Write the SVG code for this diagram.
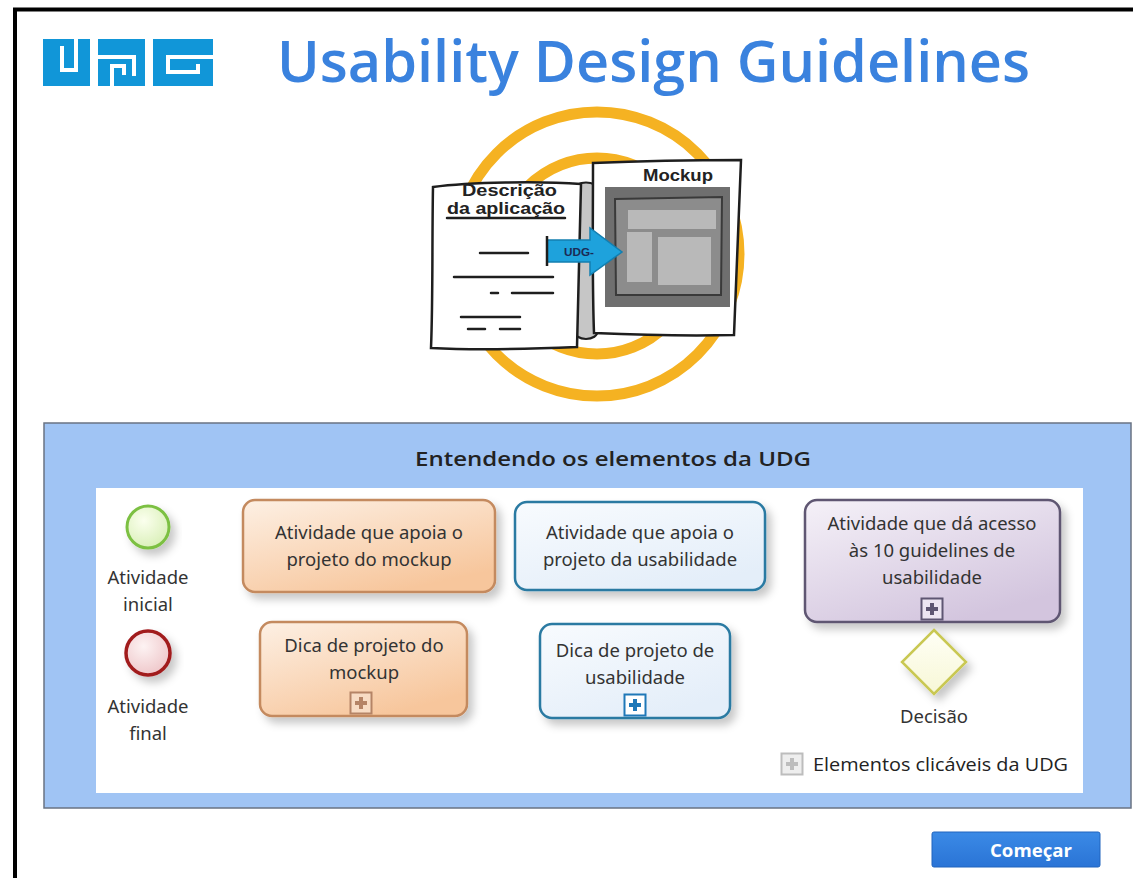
<svg xmlns="http://www.w3.org/2000/svg" width="1133" height="878" viewBox="0 0 1133 878">
  <defs>
    <style>
      .lbl { font-family: "Noto Sans", "Open Sans", sans-serif; font-size: 18.5px; fill: #333; text-anchor: middle; }
      .round { font-family: "Open Sans", "Noto Sans", sans-serif; }
      .hand { font-family: "Liberation Sans", "DejaVu Sans", sans-serif; font-weight: bold; fill: #222; }
      .ink { fill: none; stroke: #1e1e1e; stroke-width: 2.5; stroke-linecap: round; stroke-linejoin: round; }
      .logo-cut { fill: none; stroke: #fff; stroke-width: 4; stroke-linecap: square; }
      .ring { fill: none; stroke: #f5b222; stroke-width: 11; }
    </style>
    <linearGradient id="gOrange" x1="0" y1="0" x2="0.6" y2="1">
      <stop offset="0" stop-color="#fdf0e4"/>
      <stop offset="1" stop-color="#f7c69c"/>
    </linearGradient>
    <linearGradient id="gBlue" x1="0" y1="0" x2="0.6" y2="1">
      <stop offset="0" stop-color="#f8fbfe"/>
      <stop offset="1" stop-color="#e4eef9"/>
    </linearGradient>
    <linearGradient id="gPurple" x1="0" y1="0" x2="0.6" y2="1">
      <stop offset="0" stop-color="#f5f1f8"/>
      <stop offset="1" stop-color="#d3c5de"/>
    </linearGradient>
    <radialGradient id="gStart" cx="0.4" cy="0.35" r="0.7">
      <stop offset="0" stop-color="#fbffee"/>
      <stop offset="1" stop-color="#d8efb6"/>
    </radialGradient>
    <radialGradient id="gEnd" cx="0.4" cy="0.35" r="0.7">
      <stop offset="0" stop-color="#fdf3f3"/>
      <stop offset="1" stop-color="#eec5c8"/>
    </radialGradient>
    <linearGradient id="gDiamond" x1="0" y1="0" x2="0" y2="1">
      <stop offset="0" stop-color="#fffff6"/>
      <stop offset="1" stop-color="#f7f7d6"/>
    </linearGradient>
    <linearGradient id="gBtn" x1="0" y1="0" x2="0" y2="1">
      <stop offset="0" stop-color="#3b8ae6"/>
      <stop offset="1" stop-color="#2a74d6"/>
    </linearGradient>
    <filter id="shadow" x="-20%" y="-20%" width="150%" height="160%">
      <feDropShadow dx="5" dy="6" stdDeviation="4" flood-color="#000" flood-opacity="0.22"/>
    </filter>
    <g id="plus">
      <rect x="-10.5" y="-10.5" width="21" height="21" stroke-width="2"/>
      <path d="M-6,0 H6 M0,-6 V6" stroke-width="4" fill="none"/>
    </g>
  </defs>

  <!-- page background and frame -->
  <rect x="0" y="0" width="1133" height="878" fill="#ffffff"/>
  <path d="M15,878 V9.5 H1133" fill="none" stroke="#000" stroke-width="4"/>

  <!-- header: logo and title -->
  <g id="logo" fill="#1196d8">
    <rect x="43" y="39" width="47" height="47"/>
    <rect x="98" y="39" width="47" height="47"/>
    <rect x="153" y="39" width="60" height="47"/>
    <path class="logo-cut" d="M62,48 V70 H76 V39"/>
    <path class="logo-cut" d="M98,57 H134 V74 M112,86 V66 H124 V73"/>
    <path class="logo-cut" d="M213,57 H168 V72 H198 V66"/>
  </g>
  <text id="title" class="round" x="277" y="82" font-size="58" font-weight="600" fill="#3a82de" textLength="753" lengthAdjust="spacingAndGlyphs">Usability Design Guidelines</text>

  <!-- illustration: description turned into mockup -->
  <g id="illustration">
    <circle class="ring" cx="597" cy="254" r="142"/>
    <circle class="ring" cx="597" cy="256" r="98"/>

    <!-- scroll roll -->
    <path d="M574,190 C574,180 598,180 598,190 L598,330 C598,342 574,342 574,330 Z" fill="#c6c6c6" stroke="#1e1e1e" stroke-width="2.2"/>

    <!-- description sheet -->
    <path d="M433,187 C470,182 540,181 581,184 L577,347 C530,349 470,350 431,348 C433,300 432,240 433,187 Z" fill="#ffffff" stroke="#1e1e1e" stroke-width="2.5"/>
    <text class="hand" x="462" y="196" font-size="16" textLength="95" lengthAdjust="spacingAndGlyphs">Descrição</text>
    <text class="hand" x="447" y="214" font-size="16" textLength="118" lengthAdjust="spacingAndGlyphs">da aplicação</text>
    <path class="ink" d="M447,218 H565" stroke-width="2"/>
    <path class="ink" d="M480,253 H528 M454,277 H553 M491,293 H498 M512,293 H553 M461,317 H520 M468,329 H485 M500,329 H520"/>

    <!-- mockup sheet -->
    <path d="M593,163 C640,161 700,160 741,160 L734,335 C690,336 640,335 594,333 C592,280 593,220 593,163 Z" fill="#ffffff" stroke="#1e1e1e" stroke-width="2.5"/>
    <text class="hand" x="643" y="181" font-size="17" textLength="70" lengthAdjust="spacingAndGlyphs">Mockup</text>
    <rect x="605" y="187" width="125" height="120" fill="#6f6f6f"/>
    <path d="M615,199 L722,197 L721,295 L616,295 Z" fill="#8c8c8c" stroke="#3a3a3a" stroke-width="2"/>
    <rect x="628" y="210" width="88" height="19" fill="#b9b9b9"/>
    <rect x="627" y="232" width="25" height="50" fill="#b9b9b9"/>
    <rect x="658" y="237" width="53" height="48" fill="#b9b9b9"/>

    <!-- arrow -->
    <path d="M547,240 H590 V228 L622,252 L590,275 V262 H547 Z" fill="#1ea2dc" stroke="#137fb0" stroke-width="1.5"/>
    <path d="M547,236 V266" stroke="#1e1e1e" stroke-width="2.5"/>
    <text x="564" y="256" font-family="Liberation Sans, sans-serif" font-weight="bold" font-size="11" fill="#1b2a55" textLength="30" lengthAdjust="spacingAndGlyphs">UDG-</text>
  </g>

  <!-- legend panel -->
  <g id="panel">
    <rect x="44" y="423" width="1087" height="385" fill="#a0c4f4" stroke="#6a7383" stroke-width="1.5"/>
    <rect x="96" y="488" width="987" height="305" fill="#ffffff"/>
    <text class="round" x="613" y="466" font-size="20" font-weight="600" fill="#222" text-anchor="middle" textLength="396" lengthAdjust="spacingAndGlyphs">Entendendo os elementos da UDG</text>
  </g>

  <g id="start-event">
    <circle cx="148" cy="527" r="21" fill="url(#gStart)" stroke="#7cc043" stroke-width="3" filter="url(#shadow)"/>
    <text class="lbl" x="148" y="584">Atividade</text>
    <text class="lbl" x="148" y="611">inicial</text>
  </g>

  <g id="end-event">
    <circle cx="148" cy="653" r="22" fill="url(#gEnd)" stroke="#a11a1e" stroke-width="3.5" filter="url(#shadow)"/>
    <text class="lbl" x="148" y="713">Atividade</text>
    <text class="lbl" x="148" y="740">final</text>
  </g>

  <g id="mockup-activity">
    <rect x="243" y="500" width="252" height="92" rx="12" fill="url(#gOrange)" stroke="#c48a5e" stroke-width="2.5" filter="url(#shadow)"/>
    <text class="lbl" x="369" y="539">Atividade que apoia o</text>
    <text class="lbl" x="369" y="566">projeto do mockup</text>
  </g>

  <g id="usability-activity">
    <rect x="515" y="502" width="250" height="88" rx="12" fill="url(#gBlue)" stroke="#2a7aa2" stroke-width="2.5" filter="url(#shadow)"/>
    <text class="lbl" x="640" y="539">Atividade que apoia o</text>
    <text class="lbl" x="640" y="566">projeto da usabilidade</text>
  </g>

  <g id="guidelines-activity">
    <rect x="805" y="500" width="255" height="122" rx="12" fill="url(#gPurple)" stroke="#5e5672" stroke-width="2.5" filter="url(#shadow)"/>
    <text class="lbl" x="932" y="530">Atividade que dá acesso</text>
    <text class="lbl" x="932" y="557">às 10 guidelines de</text>
    <text class="lbl" x="932" y="584">usabilidade</text>
    <use href="#plus" x="932" y="609" fill="#ece5f1" stroke="#5e5672"/>
  </g>

  <g id="mockup-tip">
    <rect x="260" y="622" width="207" height="94" rx="12" fill="url(#gOrange)" stroke="#c48a5e" stroke-width="2.5" filter="url(#shadow)"/>
    <text class="lbl" x="364" y="652">Dica de projeto do</text>
    <text class="lbl" x="364" y="679">mockup</text>
    <use href="#plus" x="361" y="703" fill="#f8dcc4" stroke="#b58466"/>
  </g>

  <g id="usability-tip">
    <rect x="540" y="624" width="190" height="94" rx="12" fill="url(#gBlue)" stroke="#2a7aa2" stroke-width="2.5" filter="url(#shadow)"/>
    <text class="lbl" x="635" y="657">Dica de projeto de</text>
    <text class="lbl" x="635" y="684">usabilidade</text>
    <use href="#plus" x="635" y="705" fill="#ffffff" stroke="#1f78b8"/>
  </g>

  <g id="decision">
    <path d="M934,630 L966,662 L934,694 L902,662 Z" fill="url(#gDiamond)" stroke="#c9c852" stroke-width="2.5" filter="url(#shadow)"/>
    <text class="lbl" x="934" y="723">Decisão</text>
  </g>

  <g id="legend-clickable">
    <use href="#plus" x="792" y="764" fill="#eeeeee" stroke="#bdbdbd"/>
    <text class="round" x="813" y="771" font-size="18" fill="#222" textLength="255" lengthAdjust="spacingAndGlyphs">Elementos clicáveis da UDG</text>
  </g>

  <!-- start button -->
  <g id="start-button">
    <rect x="932" y="832" width="168" height="35" rx="2" fill="url(#gBtn)" stroke="#2064be" stroke-width="1"/>
    <text class="round" x="1031" y="857" font-size="17" font-weight="bold" fill="#ffffff" text-anchor="middle" textLength="82" lengthAdjust="spacingAndGlyphs">Começar</text>
  </g>
</svg>
